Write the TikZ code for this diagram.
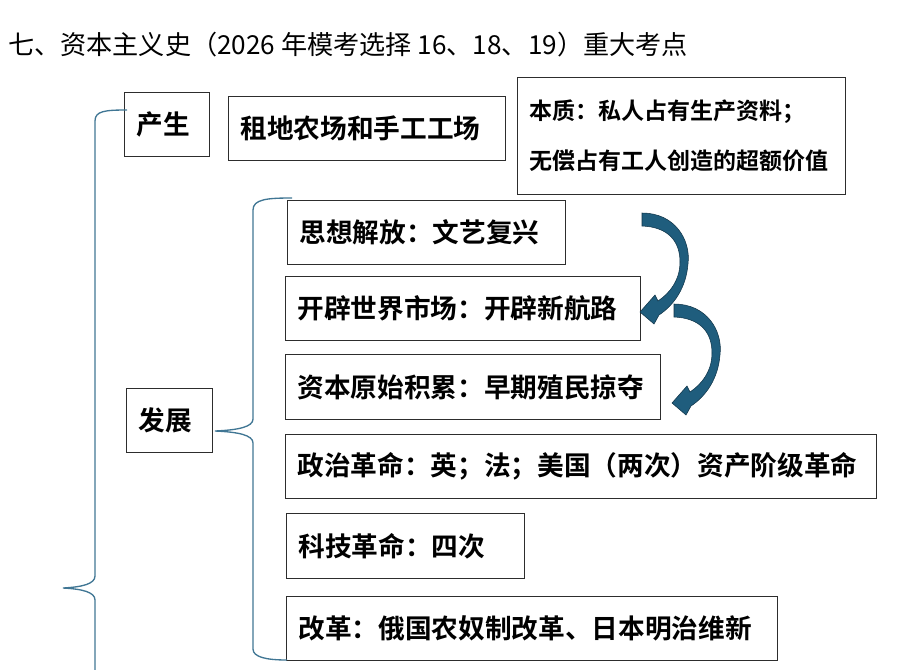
\documentclass[tikz,border=0pt]{standalone}
\usepackage{fontspec}
\newfontfamily\cjk{Noto Sans CJK SC}[BoldFont={Noto Sans CJK SC Bold}]
\usepackage{tikz}
\definecolor{boxline}{RGB}{45,45,45}
\definecolor{bracecol}{RGB}{64,118,148}
\definecolor{arrowfill}{RGB}{31,93,125}
\definecolor{arrowedge}{RGB}{16,52,72}
\def\bentarrow(#1){\filldraw[fill=arrowfill, draw=arrowedge, line width=0.4pt, shift={(#1)}] (642,213) .. controls (675,213) and (691,240) .. (688,264) .. controls (686,288) and (674,305) .. (659,315) -- (654,324) -- (640,312) -- (655,295) -- (658,301) .. controls (670,293) and (680,280) .. (680,262) .. controls (680,241) and (668,227) .. (642,226) -- cycle;}
\tikzset{
	card/.style={draw=boxline, line width=0.9pt, anchor=north west, align=left, inner xsep=9pt, inner ysep=0pt, minimum height=48pt, font=\cjk\bfseries\fontsize{20pt}{24pt}\selectfont},
	brace/.style={draw=bracecol, line width=1pt}
}

\begin{document}
\begin{tikzpicture}[x=0.75pt, y=-0.75pt]
		%%%%% START %%%%%
		\useasboundingbox (0,0) rectangle (904,669);
		
		\node[anchor=west, inner sep=0pt, font=\cjk\fontsize{19.6pt}{23pt}\selectfont] (title) at (8,45) {七、资本主义史（2026 年模考选择 16、18、19）重大考点};
		
		\node[card, text width=45.75pt] (chansheng) at (124,92) {产生};
		\node[card, text width=189.75pt] (zudi) at (228,96) {租地农场和手工工场};
		\node[card, text width=228pt, minimum height=87.75pt, font=\cjk\bfseries\fontsize{17.25pt}{37.5pt}\selectfont] (benzhi) at (517,77) {本质：私人占有生产资料；\\无偿占有工人创造的超额价值};
		
		\node[card, text width=46.5pt] (fazhan) at (126,388) {发展};
		
		\node[card, text width=190.5pt] (sixiang) at (287,200) {思想解放：文艺复兴};
		\node[card, text width=248.25pt] (kaipi) at (285,276) {开辟世界市场：开辟新航路};
		\node[card, text width=263.25pt, minimum height=48.75pt] (ziben) at (285,354) {资本原始积累：早期殖民掠夺};
		\node[card, text width=425.25pt] (zhengzhi) at (285,434) {政治革命：英；法；美国（两次）资产阶级革命};
		\node[card, text width=160.5pt, minimum height=48.75pt] (keji) at (286,513) {科技革命：四次};
		\node[card, text width=350.25pt] (gaige) at (286,596) {改革：俄国农奴制改革、日本明治维新};
		
		% big brace
		\coordinate (bigtop) at (127,110);
		\coordinate (bigtip) at (63,588);
		\coordinate (bigend) at (95,670);
		\draw[brace] (bigtop) .. controls (105,110) and (95,111) .. (95,121) -- (95,576) .. controls (95,584) and (82,587) .. (bigtip) .. controls (82,589) and (95,592) .. (95,600) -- (bigend);
		
		% small brace
		\coordinate (smalltop) at (292,198);
		\coordinate (smalltip) at (215,431);
		\coordinate (smallend) at (287,660);
		\draw[brace] (smalltop) .. controls (268,198) and (253,199) .. (253,210) -- (253,419) .. controls (253,427) and (238,430) .. (smalltip) .. controls (238,432) and (253,435) .. (253,443) -- (253,649) .. controls (253,657) and (266,660) .. (smallend);
		
		\bentarrow(0,0)
		\bentarrow(32,91)
		
		%%%%% END %%%%%
\end{tikzpicture}
\end{document}
